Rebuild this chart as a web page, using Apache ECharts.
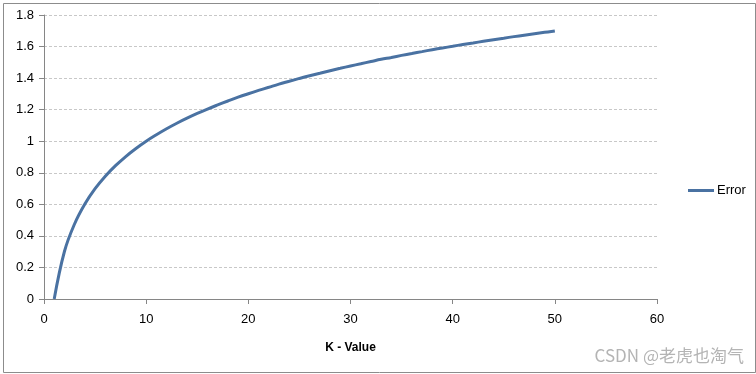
<!DOCTYPE html>
<html><head><meta charset="utf-8">
<script src="https://cdn.jsdelivr.net/npm/echarts@6/dist/echarts.min.js"></script>
<style>html,body{margin:0;padding:0;background:#fff}#c{width:756px;height:374px}</style>
</head><body><div id="c"></div>
<script>
const kValues = [1,2,3,4,5,6,7,8,9,10,11,12,13,14,15,16,17,18,19,20,21,22,23,24,25,26,27,28,29,30,31,32,33,34,35,36,37,38,39,40,41,42,43,44,45,46,47,48,49,50];
const errorValues = [0,0.301,0.477,0.602,0.699,0.778,0.845,0.903,0.954,1.000,1.041,1.079,1.114,1.146,1.176,1.204,1.230,1.255,1.279,1.301,1.322,1.342,1.362,1.380,1.398,1.415,1.431,1.447,1.462,1.477,1.491,1.505,1.519,1.531,1.544,1.556,1.568,1.580,1.591,1.602,1.613,1.623,1.633,1.643,1.653,1.663,1.672,1.681,1.690,1.699];
const seriesName = 'Error';
const xTitle = 'K - Value';
const watermark = 'CSDN @老虎也淘气';

const font = '"Liberation Sans Narrow","Liberation Sans",sans-serif';
const chart = echarts.init(document.getElementById('c'));
chart.setOption({
  backgroundColor: '#fff',
  animation: false,
  grid: {left: 44, right: 99, top: 15, bottom: 75},
  legend: {
    data: [seriesName], left: 683, top: 179, orient: 'vertical',
    itemWidth: 26, itemHeight: 3, itemGap: 4,
    icon: 'rect',
    textStyle: {fontFamily: font, fontSize: 13, color: '#000', padding: [0,0,0,-2]}
  },
  xAxis: {
    type: 'value', min: 0, max: 60, interval: 10,
    name: xTitle, nameLocation: 'middle', nameGap: 43,
    nameTextStyle: {fontFamily: font, fontSize: 12, fontWeight: 'bold', color: '#000'},
    axisLine: {lineStyle: {color: '#868686', width: 1}},
    axisTick: {show: true, length: 5, inside: false, lineStyle: {color: '#868686'}},
    axisLabel: {fontFamily: font, fontSize: 13, color: '#000', margin: 14},
    splitLine: {show: false}
  },
  yAxis: {
    type: 'value', min: 0, max: 1.8, interval: 0.2,
    axisLine: {show: true, lineStyle: {color: '#868686', width: 1}},
    axisTick: {show: true, length: 5, lineStyle: {color: '#868686'}},
    axisLabel: {fontFamily: font, fontSize: 13, color: '#000', margin: 10,
      formatter: v => String(Math.round(v*10)/10)},
    splitLine: {show: true, lineStyle: {color: '#c8c8c8', type: [3,2], width: 1}}
  },
  series: [{
    name: seriesName, type: 'line', smooth: 0.4, showSymbol: false,
    data: kValues.map((k, i) => [k, errorValues[i]]),
    lineStyle: {color: '#4a72a2', width: 3},
    itemStyle: {color: '#4a72a2'}
  }],
  graphic: [
    {type: 'rect', left: 1, top: 1, shape: {width: 752, height: 369},
     style: {fill: 'none', stroke: '#8c8c8c', lineWidth: 1}, silent: true},
    {type: 'text', right: 12, bottom: 10,
     style: {text: watermark, fill: '#b4b4b4', font: '17px "Noto Sans CJK SC", sans-serif'}}
  ]
});
</script></body></html>
